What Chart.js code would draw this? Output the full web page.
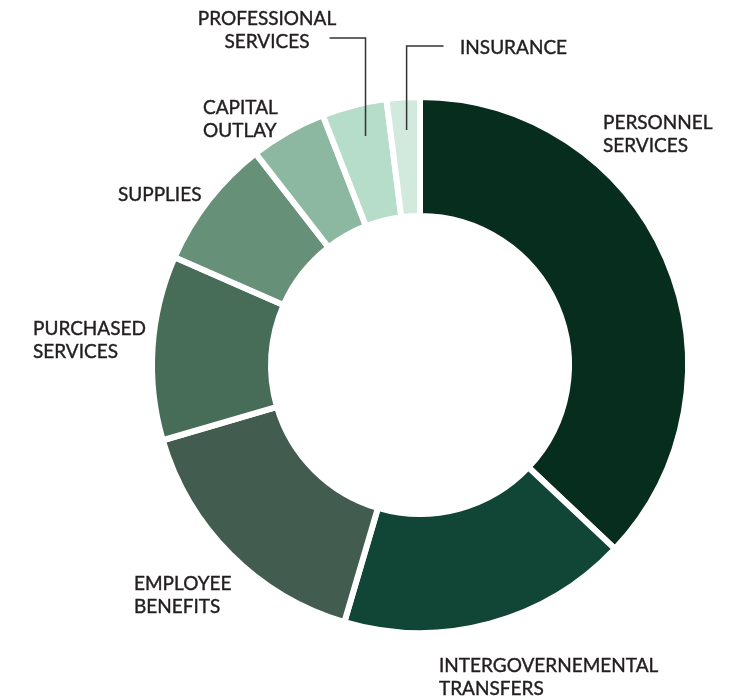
<!DOCTYPE html>
<html>
<head>
<meta charset="utf-8">
<script src="https://cdn.jsdelivr.net/npm/chart.js@4"></script>
<style>
  html, body { margin: 0; padding: 0; background: #fff; }
  #wrap { width: 742px; height: 700px; }
</style>
</head>
<body>
<div id="wrap"><canvas id="chart" width="742" height="700"></canvas></div>
<script>
// expense categories, clockwise from 12 o'clock
var categories = ["Personnel Services", "Intergovernemental Transfers", "Employee Benefits",
    "Purchased Services", "Supplies", "Capital Outlay", "Professional Services", "Insurance"];
var shares = [37.0, 17.5, 15.9, 11.1, 7.9, 4.6, 3.9, 2.0];   // percent of total
var labelLines = [
    ["PERSONNEL", "SERVICES"],
    ["INTERGOVERNEMENTAL", "TRANSFERS"],
    ["EMPLOYEE", "BENEFITS"],
    ["PURCHASED", "SERVICES"],
    ["SUPPLIES"],
    ["CAPITAL", "OUTLAY"],
    ["PROFESSIONAL", "SERVICES"],
    ["INSURANCE"]
];
var sliceColors = ["#072d1f", "#114636", "#435c50", "#476d58", "#679079", "#8cb7a0", "#b6dcca", "#d2e9dd"];

// label placement relative to the doughnut centre: [dx, dy of first line, align]
var labelPos = [
    [183, -242, "left"],
    [19, 301, "left"],
    [-286, 219, "left"],
    [-387, -36, "left"],
    [-302, -170, "left"],
    [-217, -257, "left"],
    [-153, -346, "center"],
    [40, -317, "left"]
];
// leader lines for the thin slices: index -> length of the horizontal part
var leaders = {6: -36, 7: 37};

var labelPlugin = {
    id: "sliceLabels",
    afterDraw: function (chart) {
        var ctx = chart.ctx;
        var arcs = chart.getDatasetMeta(0).data;
        var cx = arcs[0].x, cy = arcs[0].y;
        ctx.save();
        ctx.fillStyle = "#231f20";
        ctx.strokeStyle = "#231f20";
        ctx.lineWidth = 0.4;
        ctx.font = "19px Lato";
        ctx.textBaseline = "middle";
        labelLines.forEach(function (lines, i) {
            var p = labelPos[i];
            ctx.textAlign = p[2];
            lines.forEach(function (t, k) {
                ctx.fillText(t, cx + p[0], cy + p[1] + k * 23);
                ctx.strokeText(t, cx + p[0], cy + p[1] + k * 23);
            });
        });
        // leaders
        ctx.strokeStyle = "#333";
        ctx.lineWidth = 1.5;
        Object.keys(leaders).forEach(function (k) {
            var a = arcs[k];
            var mid = (a.startAngle + a.endAngle) / 2 + (k == 6 ? 0.015 : 0.006);
            var r = (a.innerRadius + a.outerRadius) / 2 + 27;
            var ex = cx + Math.cos(mid) * r;
            var ey = cy + Math.sin(mid) * r;
            var ly = k == 6 ? cy + labelPos[k][1] + 19 : cy + labelPos[k][1] - 2;
            ctx.beginPath();
            ctx.moveTo(ex, ey);
            ctx.lineTo(ex, ly);
            ctx.lineTo(ex + leaders[k], ly);
            ctx.stroke();
        });
        ctx.restore();
    }
};

new Chart("chart", {
    type: "doughnut",
    data: {
        labels: categories,
        datasets: [{
            data: shares,
            backgroundColor: sliceColors,
            borderColor: "#ffffff",
            borderWidth: 6
        }]
    },
    options: {
        responsive: false,
        animation: false,
        cutout: "55.6%",
        layout: { padding: { left: 149, right: 51, top: 94, bottom: 64 } },
        plugins: {
            legend: { display: false },
            tooltip: { enabled: false }
        }
    },
    plugins: [labelPlugin]
});
</script>
</body>
</html>
